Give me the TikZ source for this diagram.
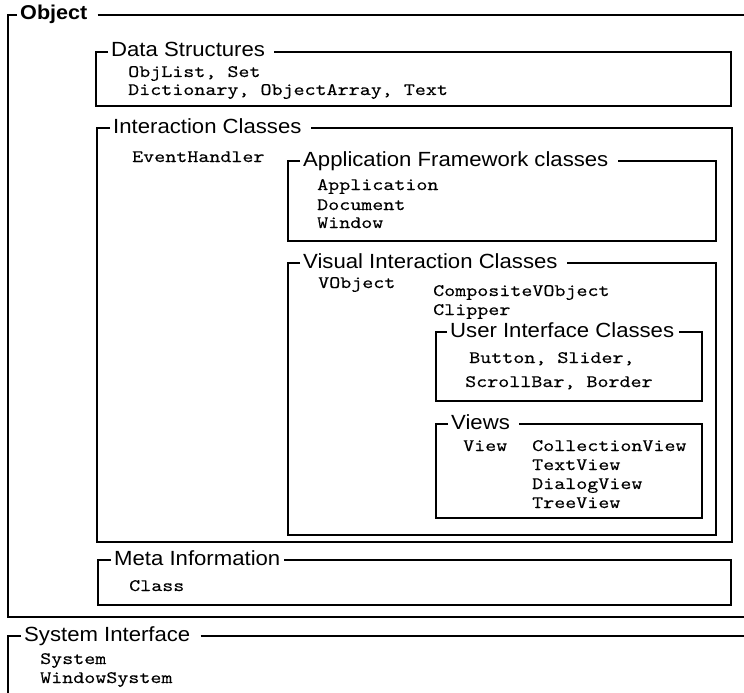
\documentclass[tikz,border=0pt]{standalone}
\usepackage{fontspec}
\setmainfont[FakeStretch=1.08]{Liberation Sans}
\setmonofont[FakeStretch=1.2,FakeBold=0.2]{lmmono10-regular.otf}

\begin{document}
\begin{tikzpicture}[x=1pt,y=-1pt,
  frame/.style={line width=1.8pt},
  title/.style={anchor=west, inner sep=0pt, text height=10pt, text depth=0pt, font=\fontsize{20.5}{22}\selectfont},
  item/.style={anchor=base west, inner sep=0pt, font=\ttfamily\fontsize{17.5}{20}\selectfont}]
\useasboundingbox (0,0) rectangle (744,693);

% Object (open on the right)
\node[title, font=\bfseries\fontsize{20}{22}\selectfont] (object) at (20,15) {Object};
\draw[frame] ([xshift=-3pt]object.west) -- (8,15) -- (8,617) -- (744,617);
\draw[frame] ([xshift=10pt]object.east) -- (744,15);

% Data Structures
\node[title] (datastr) at (111,52) {Data Structures};
\draw[frame] ([xshift=-3pt]datastr.west) -- (96,52) -- (96,106) -- (731,106) -- (731,52) -- ([xshift=9pt]datastr.east);
\node[item] (objlist) at (128,77) {ObjList, Set};
\node[item] (dict) at (128,95) {Dictionary, ObjectArray, Text};

% Interaction Classes
\node[title] (interact) at (113,128) {Interaction Classes};
\draw[frame] ([xshift=-3pt]interact.west) -- (97,128) -- (97,542) -- (732,542) -- (732,128) -- ([xshift=9pt]interact.east);
\node[item] (evhandler) at (132,162) {EventHandler};

% Application Framework classes
\node[title] (appfw) at (303,161) {Application Framework classes};
\draw[frame] ([xshift=-3pt]appfw.west) -- (288,161) -- (288,241) -- (716,241) -- (716,161) -- ([xshift=9pt]appfw.east);
\node[item] (application) at (317,190) {Application};
\node[item] (document) at (317,210) {Document};
\node[item] (window) at (317,228) {Window};

% Visual Interaction Classes
\node[title] (visual) at (303,263) {Visual Interaction Classes};
\draw[frame] ([xshift=-3pt]visual.west) -- (288,263) -- (288,535) -- (716,535) -- (716,263) -- ([xshift=9pt]visual.east);
\node[item] (vobject) at (318,288) {VObject};
\node[item] (compvobj) at (433,296) {CompositeVObject};
\node[item] (clipper) at (433,315) {Clipper};

% User Interface Classes
\node[title] (uicls) at (450,332) {User Interface Classes};
\draw[frame] ([xshift=-3pt]uicls.west) -- (436,332) -- (436,401) -- (702,401) -- (702,332) -- ([xshift=5pt]uicls.east);
\node[item] (button) at (469,363) {Button, Slider,};
\node[item] (scrollbar) at (465,387) {ScrollBar, Border};

% Views
\node[title] (views) at (451,424) {Views};
\draw[frame] ([xshift=-3pt]views.west) -- (436,424) -- (436,518) -- (702,518) -- (702,424) -- ([xshift=9pt]views.east);
\node[item] (view) at (463,451) {View};
\node[item] (collview) at (532,451) {CollectionView};
\node[item] (textview) at (532,470) {TextView};
\node[item] (dialogview) at (532,489) {DialogView};
\node[item] (treeview) at (532,508) {TreeView};

% Meta Information
\node[title] (meta) at (114,560) {Meta Information};
\draw[frame] ([xshift=-3pt]meta.west) -- (98,560) -- (98,605) -- (731,605) -- (731,560) -- ([xshift=3pt]meta.east);
\node[item] (class) at (129,591) {Class};

% System Interface (open on the right and below)
\node[title] (sysif) at (24,636) {System Interface};
\draw[frame] ([xshift=-3pt]sysif.west) -- (8,636) -- (8,693);
\draw[frame] ([xshift=10pt]sysif.east) -- (744,636);
\node[item] (system) at (40,664) {System};
\node[item] (winsystem) at (40,683) {WindowSystem};

\end{tikzpicture}
\end{document}
